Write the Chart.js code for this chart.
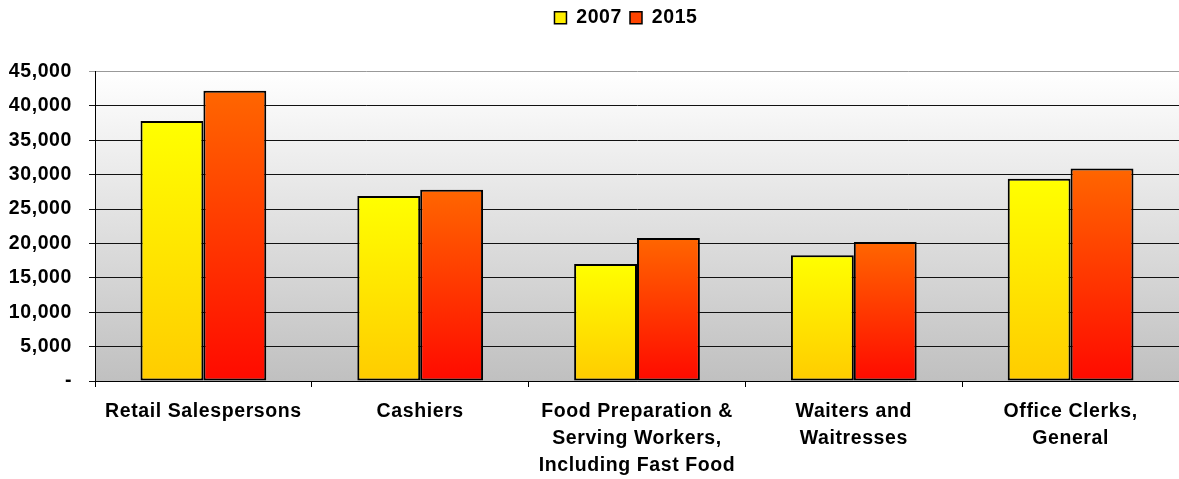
<!DOCTYPE html>
<html>
<head>
<meta charset="utf-8">
<script src="https://cdn.jsdelivr.net/npm/chart.js@4/dist/chart.umd.min.js"></script>
<style>
  html, body { margin: 0; padding: 0; background: #fff; }
  #wrap { width: 1179px; height: 479px; }
</style>
</head>
<body>
<div id="wrap"><canvas id="jobsChart"></canvas></div>
<script>
// Occupations (x categories)
const occupations = [
  ["Retail Salespersons"],
  ["Cashiers"],
  ["Food Preparation &", "Serving Workers,", "Including Fast Food"],
  ["Waiters and", "Waitresses"],
  ["Office Clerks,", "General"]
];
const seriesNames = ["2007", "2015"];
const jobs2007 = [37800, 26900, 17000, 18300, 29400];
const jobs2015 = [42200, 27800, 20800, 20200, 30900];
const yTicks = [0, 5000, 10000, 15000, 20000, 25000, 30000, 35000, 40000, 45000];

const FONT = "'Liberation Sans', Arial, sans-serif";

// vertical gradient per bar, top colour -> bottom colour
function barGradient(context, topColor, bottomColor) {
  const chart = context.chart;
  const yScale = chart.scales.y;
  if (!yScale || context.raw == null) return topColor;
  const yTop = yScale.getPixelForValue(context.raw);
  const yBottom = yScale.getPixelForValue(0);
  if (!isFinite(yTop) || !isFinite(yBottom) || yTop === yBottom) return topColor;
  const g = chart.ctx.createLinearGradient(0, yTop, 0, yBottom);
  g.addColorStop(0, topColor);
  g.addColorStop(1, bottomColor);
  return g;
}

// grey-to-white plot background
const plotBackground = {
  id: "plotBackground",
  beforeDraw(chart) {
    const { ctx, chartArea } = chart;
    if (!chartArea) return;
    const g = ctx.createLinearGradient(0, chartArea.top, 0, chartArea.bottom);
    g.addColorStop(0, "#ffffff");
    g.addColorStop(1, "#c0c0c0");
    ctx.save();
    ctx.fillStyle = g;
    ctx.fillRect(chartArea.left, chartArea.top, chartArea.right - chartArea.left, chartArea.bottom - chartArea.top);
    ctx.restore();
  }
};

// the original text is a bit wider
const wideText = {
  id: "wideText",
  beforeLayout(chart) { chart.ctx.letterSpacing = "0.6px"; },
  beforeDraw(chart) { chart.ctx.letterSpacing = "0.6px"; }
};

// extra space under the legend, and nudge it a little left
const legendSpacing = {
  id: "legendSpacing",
  beforeInit(chart) {
    const origFit = chart.legend.fit;
    chart.legend.fit = function () {
      origFit.bind(chart.legend)();
      this.height += 34;
    };
  },
  afterLayout(chart) {
    const shift = 626 - (chart.legend.left + chart.legend.right) / 2;
    chart.legend.left += shift;
    chart.legend.right += shift;
  }
};

const ctx = document.getElementById("jobsChart").getContext("2d");
new Chart(ctx, {
  type: "bar",
  data: {
    labels: occupations,
    datasets: [
      {
        label: seriesNames[0],
        data: jobs2007,
        backgroundColor: (c) => barGradient(c, "#ffff00", "#ffcc00"),
        borderColor: "#000000",
        borderWidth: 2,
        borderSkipped: false,
      },
      {
        label: seriesNames[1],
        data: jobs2015,
        backgroundColor: (c) => barGradient(c, "#ff6600", "#ff0a00"),
        borderColor: "#000000",
        borderWidth: 2,
        borderSkipped: false,
      },
    ],
  },
  options: {
    responsive: true,
    maintainAspectRatio: false,
    animation: false,
    layout: { padding: { left: 8, right: 0, top: 0, bottom: -11 } },
    datasets: {
      bar: { barPercentage: 1.0, categoryPercentage: 0.58 },
    },
    plugins: {
      tooltip: { enabled: false },
      legend: {
        position: "top",
        fullSize: false,
        labels: {
          color: "#000",
          font: { family: FONT, size: 19.5, weight: "bold" },
          boxWidth: 12,
          boxHeight: 12,
          padding: 8,
          generateLabels: (chart) => [
            { text: seriesNames[0], fillStyle: "#ffee00", strokeStyle: "#000", lineWidth: 1.5, datasetIndex: 0 },
            { text: seriesNames[1], fillStyle: "#ff4400", strokeStyle: "#000", lineWidth: 1.5, datasetIndex: 1 },
          ],
        },
      },
    },
    scales: {
      x: {
        afterFit: (scale) => {
          scale.paddingLeft = 0;
          scale.paddingRight = 0;
        },
        grid: {
          display: true,
          drawOnChartArea: false,
          drawTicks: true,
          tickLength: 6,
          color: "#000",
          offset: true,
        },
        border: { display: true, color: "#000", width: 1 },
        ticks: {
          color: "#000",
          padding: 11,
          maxRotation: 0,
          autoSkip: false,
          font: { family: FONT, size: 19.5, weight: "bold", lineHeight: "27px" },
        },
      },
      y: {
        min: 0,
        max: 45000,
        afterBuildTicks: (axis) => {
          axis.ticks = yTicks.map((v) => ({ value: v }));
        },
        afterFit: (scale) => {
          scale.width = 87;
        },
        grid: {
          color: (c) => (c.tick && c.tick.value === 45000 ? "#999999" : "#111111"),
          lineWidth: 1,
          tickLength: 6,
        },
        border: { display: true, color: "#000", width: 1 },
        ticks: {
          color: "#000",
          padding: 17,
          font: { family: FONT, size: 19.5, weight: "bold" },
          callback: (value) => (value === 0 ? "-" : value.toLocaleString("en-US")),
        },
      },
    },
  },
  plugins: [plotBackground, wideText, legendSpacing],
});
</script>
</body>
</html>
